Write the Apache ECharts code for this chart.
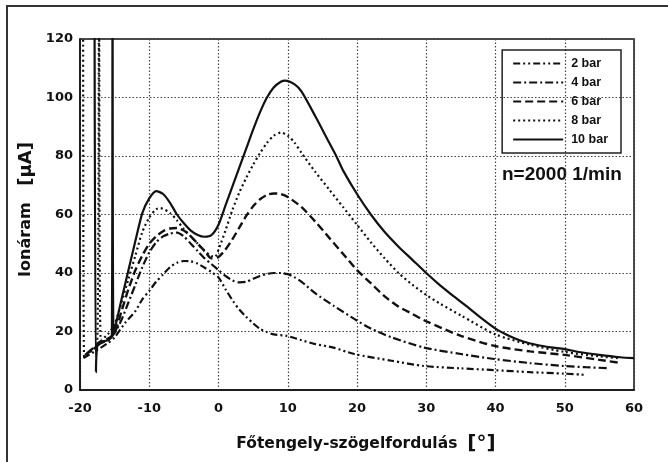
<!DOCTYPE html>
<html>
<head>
<meta charset="utf-8">
<script src="https://cdn.jsdelivr.net/npm/echarts@6/dist/echarts.min.js"></script>
<style>
  html, body { margin: 0; padding: 0; background: #fff; }
  #chart { width: 668px; height: 462px; }
</style>
</head>
<body>
<div id="chart"></div>
<script>
// values, [crank angle, ion current]
const seriesNames = ['2 bar', '4 bar', '6 bar', '8 bar', '10 bar']

const bar2 = [
  [-19.5, 10.9], [-18, 13], [-16, 16], [-15, 18], [-13.5, 22.9], [-12, 27], [-11, 31],
  [-9.9, 34.2], [-9, 37], [-8, 39.5], [-7, 42], [-6, 43.5], [-5, 44.1], [-4, 44],
  [-3, 43.2], [-2, 41.8], [-1, 40.3], [0, 38.5], [1, 34.5], [2.1, 30.4], [3, 27.5],
  [4, 25], [5, 22.8], [6, 20.9], [7, 19.8], [8, 19], [9.85, 18.5], [12, 17], [14, 15.7],
  [16.6, 14.5], [19.6, 12.3], [25, 10], [29.7, 8.2], [35, 7.4], [39.8, 6.8], [45, 6.1],
  [49.9, 5.6], [52.8, 5.2]
]

const bar4 = [
  [-19.3, 12], [-18, 14], [-17, 16], [-16, 17], [-15, 19.5], [-14, 24], [-13, 30],
  [-12, 36], [-11, 42], [-10, 47], [-9, 50.5], [-8, 52.5], [-7, 53.5], [-6, 53.8],
  [-5, 52.5], [-4, 50], [-3, 47.5], [-2, 45], [-1, 43], [0, 41], [1, 39], [2, 37.5],
  [3, 36.8], [4, 37], [5, 38], [6, 39], [7, 39.7], [8, 40], [9, 40], [10, 39.6],
  [11, 38.5], [12, 37], [14, 33], [16.7, 28.7], [19.6, 24.3], [22, 21], [25, 18],
  [29.7, 14.5], [35, 12.3], [39.8, 10.6], [45, 9.2], [49.9, 8.2], [53, 7.8], [56.1, 7.5]
]

const bar6 = [
  [-19, 12.5], [-18, 14.5], [-17, 16.5], [-16, 17.5], [-15, 19.5], [-14, 27], [-13, 34.5],
  [-12, 41], [-11, 46], [-10, 50], [-9, 52.5], [-8, 54.3], [-7, 55.2], [-6, 55.4],
  [-5, 54.5], [-4, 52.5], [-3, 50], [-2, 47.5], [-1, 45], [0, 45.5], [1, 48], [2, 51.5],
  [3, 55.5], [4, 59.5], [5, 62.8], [6, 65.2], [7, 66.7], [8, 67.2], [9, 67], [10, 66],
  [12, 62.5], [14, 57.5], [16, 52], [18, 46.5], [20, 41], [22, 36.5], [24, 32], [26, 28.5],
  [28, 26], [30, 23.5], [35, 18.5], [40, 15], [45, 13.2], [50, 12], [55, 10.3], [58, 9.3]
]

const bar8 = [
  [-19.55, 130], [-19.4, 11.3], [-18.5, 13], [-17.5, 16], [-17.25, 130], [-17, 17],
  [-16, 19], [-15, 22.5], [-14, 30], [-13, 38], [-12, 46], [-11, 54], [-10, 59],
  [-9, 61.8], [-8.4, 62.2], [-7, 60.5], [-6, 58], [-5, 55], [-4, 52.5], [-3, 50],
  [-2, 47.5], [-1, 45.8], [-0.5, 45.5], [0, 48], [1, 54.5], [2, 61.5], [3, 67.5],
  [4, 72.5], [5, 77], [6, 81], [7, 84.5], [8, 87], [9, 88], [10, 87], [11, 84.5],
  [12, 81], [14, 74.5], [16, 68.5], [18, 62.5], [20, 56.5], [22, 50.5], [24, 45],
  [26, 40], [28, 36], [30, 32.5], [32, 29.5], [35, 25.5], [40, 19], [45, 15.5],
  [50, 13], [55, 11.5], [58, 10.8]
]

const bar10 = [
  [-17.9, 130], [-17.7, 6], [-17.4, 16], [-16, 17], [-15.4, 18.5], [-15.3, 130],
  [-15.15, 19], [-14, 31], [-13, 41], [-12, 51], [-11, 60.5], [-10, 65.5], [-9, 68],
  [-8, 67], [-7, 64], [-6, 60], [-5, 57], [-4, 54.5], [-3, 53], [-2, 52.4], [-1, 53],
  [0, 56.5], [1, 63], [2, 69.5], [3, 76], [4, 82.5], [5, 89], [6, 95], [7, 100],
  [8, 103.5], [9, 105.4], [9.6, 105.8], [11, 104.5], [12, 102], [14, 93.5], [16, 84.5],
  [17, 80], [18, 75], [20, 67], [22, 60], [24, 54], [26, 49], [28, 44.5], [30, 40],
  [32, 35.8], [34, 32], [36, 28.3], [38, 24.5], [40, 21], [42, 18.5], [44, 16.6],
  [46, 15.4], [48, 14.6], [50, 14], [52, 13], [55, 12], [58, 11.2], [60, 10.9]
]

const xTicks = { min: -20, max: 60, step: 10 }
const yTicks = { min: 0, max: 120, step: 20 }

const dashes = {
  '2 bar': [7, 3, 2, 3, 2, 3],
  '4 bar': [8, 3, 2, 3],
  '6 bar': [8, 4],
  '8 bar': [2, 3],
  '10 bar': 'solid'
}
const widths = { '2 bar': 2.2, '4 bar': 2.2, '6 bar': 2.4, '8 bar': 2.2, '10 bar': 2.2 }
const allData = [bar2, bar4, bar6, bar8, bar10]

const chart = echarts.init(document.getElementById('chart'))
const font = 'Liberation Sans, Arial, sans-serif'
const wide = 'DejaVu Sans, sans-serif'

chart.setOption({
  backgroundColor: '#fff',
  animation: false,
  grid: {
    left: 80,
    top: 39,
    right: 34,
    bottom: 72,
    show: true,
    borderColor: '#111',
    borderWidth: 1.5
  },
  legend: {
    orient: 'vertical',
    right: 47,
    top: 50,
    itemWidth: 50,
    itemHeight: 12,
    itemGap: 6,
    padding: [7, 13, 7, 10],
    borderColor: '#222',
    borderWidth: 1.5,
    itemStyle: { opacity: 0 },
    textStyle: {
      fontFamily: font,
      fontWeight: 'bold',
      fontSize: 12.5,
      color: '#111',
      padding: [0, 0, 0, 3]
    },
    data: seriesNames
  },
  xAxis: {
    type: 'value',
    min: xTicks.min,
    max: xTicks.max,
    interval: xTicks.step,
    name: '{t|Főtengely-szögelfordulás}   {b|[°]}',
    nameLocation: 'middle',
    nameGap: 44,
    nameTextStyle: {
      padding: [0, 0, 0, 18],
      rich: {
        t: { fontFamily: wide, fontWeight: 'bold', fontSize: 15.5, color: '#111' },
        b: { fontFamily: wide, fontWeight: 'bold', fontSize: 20, color: '#111' }
      }
    },
    axisLine: { show: true, lineStyle: { color: '#111', width: 1.5 } },
    axisTick: { show: false },
    axisLabel: {
      fontFamily: wide,
      fontWeight: 'bold',
      fontSize: 13,
      color: '#111',
      margin: 12
    },
    splitLine: { show: true, lineStyle: { color: '#444', type: [1.5, 2], width: 1.2 } }
  },
  yAxis: {
    type: 'value',
    min: yTicks.min,
    max: yTicks.max,
    interval: yTicks.step,
    name: '{t|Ionáram}     {b|[μA]}',
    nameLocation: 'middle',
    nameGap: 40,
    nameRotate: 90,
    nameTextStyle: {
      padding: [0, 0, 0, 10],
      rich: {
        t: { fontFamily: wide, fontWeight: 'bold', fontSize: 16, color: '#111' },
        b: { fontFamily: wide, fontWeight: 'bold', fontSize: 18, color: '#111' }
      }
    },
    axisLine: { show: true, onZero: false, lineStyle: { color: '#111', width: 1.5 } },
    axisTick: { show: false },
    axisLabel: {
      fontFamily: wide,
      fontWeight: 'bold',
      fontSize: 13,
      color: '#111',
      margin: 7
    },
    splitLine: { show: true, lineStyle: { color: '#444', type: [1.5, 2], width: 1.2 } }
  },
  graphic: [
    {
      type: 'rect',
      shape: { x: 7, y: 6, width: 700, height: 500 },
      style: { fill: 'none', stroke: '#333', lineWidth: 2 },
      silent: true
    },
    {
      type: 'text',
      left: 502,
      top: 165,
      style: {
        text: 'n=2000 1/min',
        fontFamily: font,
        fontWeight: 'bold',
        fontSize: 19,
        fill: '#111'
      }
    }
  ],
  series: seriesNames.map((name, i) => ({
    name,
    type: 'line',
    data: allData[i],
    symbol: 'none',
    smooth: 0.25,
    clip: true,
    color: '#111',
    lineStyle: { color: '#111', width: widths[name], type: dashes[name] }
  }))
})
</script>
</body>
</html>
